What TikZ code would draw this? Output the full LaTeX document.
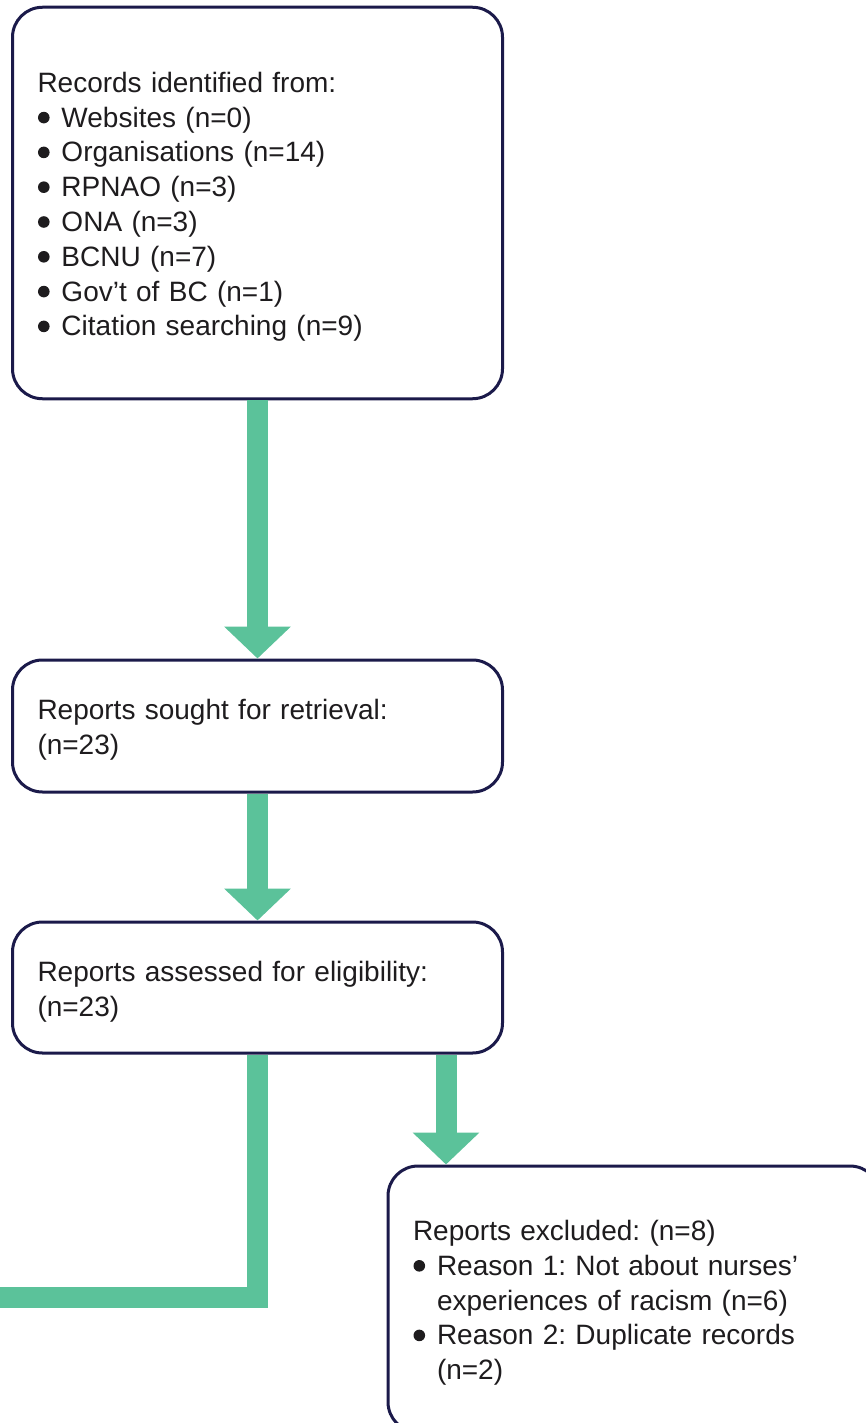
\documentclass[tikz,border=0pt]{standalone}
\usepackage{fontspec}
\setmainfont{Liberation Sans}
\usetikzlibrary{arrows.meta}
\definecolor{flowgreen}{HTML}{5BC29A}
\definecolor{navy}{HTML}{1B1A4A}
\definecolor{txt}{HTML}{1E1C1E}
\newcommand\bul{\makebox[24pt][l]{\hspace*{0.5pt}\tikz[baseline=-9.5pt,x=1cm,y=1cm]\fill[txt] (0,0) circle[radius=5.8pt];}}
\newcommand\indt{\hspace*{24pt}}
\newcommand\fst{\rule{0pt}{28pt}}
\frenchspacing
\begin{document}
\begin{tikzpicture}[x=1pt,y=-1pt,
  box/.style={draw=navy, line width=3pt, rounded corners=30pt, fill=white,
    align=left, inner xsep=25pt, inner ysep=0pt, text=txt,
    font=\fontsize{28}{34.8}\selectfont},
  flow/.style={draw=flowgreen, line width=21pt, line join=miter},
  tip/.style={-{Triangle[length=32pt,width=65pt]}}]
\clip (0,0) rectangle (866,1423);
\node[box, text width=440pt, minimum height=391.5pt] (b1) at (257.5,203)
  {\fst Records identified from:\\
   \bul Websites (n=0)\\
   \bul Organisations (n=14)\\
   \bul RPNAO (n=3)\\
   \bul ONA (n=3)\\
   \bul BCNU (n=7)\\
   \bul Gov’t of BC (n=1)\\
   \bul Citation searching (n=9)};
\node[box, text width=440pt, minimum height=132pt] (b2) at (257.5,726)
  {\fst Reports sought for retrieval:\\ (n=23)};
\node[box, text width=440pt, minimum height=131pt] (b3) at (257.5,987.5)
  {\fst Reports assessed for eligibility:\\ (n=23)};
\node[box, text width=442pt, minimum height=266pt] (b4) at (634,1299)
  {\fst Reports excluded: (n=8)\\
   \bul Reason 1: Not about nurses’\\
   \indt experiences of racism (n=6)\\
   \bul Reason 2: Duplicate records\\
   \indt (n=2)};
\coordinate (lft) at (-30,1297.5);
\coordinate (rx) at (446,0);
\draw[flow, tip] (b1.south) -- (b2.north);
\draw[flow, tip] (b2.south) -- (b3.north);
\draw[flow] (b3.south) |- (lft);
\draw[flow, tip] (b3.south -| rx) -- (b4.north -| rx);
\end{tikzpicture}
\end{document}
